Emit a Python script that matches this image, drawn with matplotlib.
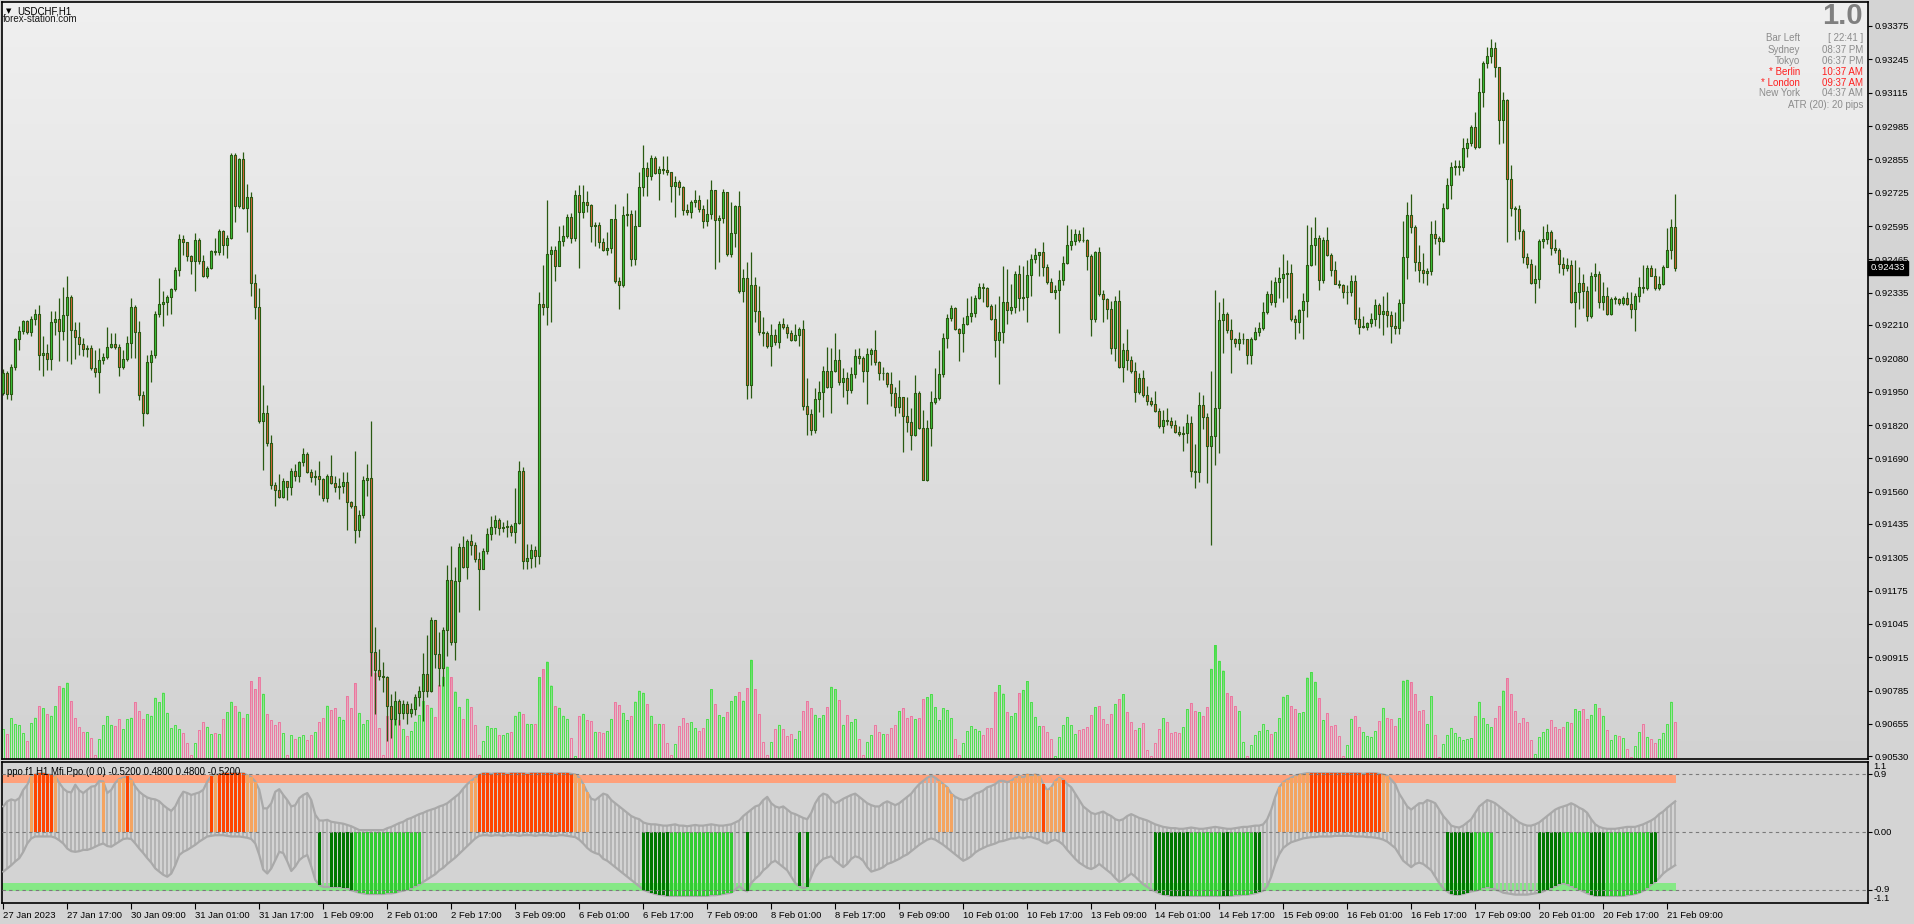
import numpy as np
import matplotlib
matplotlib.use("Agg")
import matplotlib.pyplot as plt
from matplotlib.patches import Rectangle
from matplotlib.path import Path
from matplotlib.collections import LineCollection, PatchCollection
import matplotlib.transforms as mtransforms

plt.rcParams['font.family'] = ['Liberation Sans', 'DejaVu Sans']

# ---- USDCHF H1, 27 Jan 2023 01:00 .. 21 Feb 2023 11:00 (one entry per hourly bar) ----
first_open = 0.91945
close = [
    0.92022, 0.91940, 0.92045, 0.92156, 0.92188, 0.92225, 0.92181, 0.92233, 0.92253, 0.92091,
    0.92102, 0.92076, 0.92222, 0.92233, 0.92188, 0.92248, 0.92319, 0.92191, 0.92162, 0.92134,
    0.92117, 0.92120, 0.92042, 0.92028, 0.92074, 0.92085, 0.92125, 0.92136, 0.92124, 0.92048,
    0.92077, 0.92139, 0.92281, 0.92184, 0.91936, 0.91866, 0.92066, 0.92091, 0.92253, 0.92291,
    0.92298, 0.92319, 0.92350, 0.92424, 0.92546, 0.92533, 0.92479, 0.92461, 0.92541, 0.92458,
    0.92402, 0.92432, 0.92498, 0.92496, 0.92577, 0.92520, 0.92549, 0.92872, 0.92675, 0.92857,
    0.92666, 0.92708, 0.92372, 0.92278, 0.91837, 0.91868, 0.91751, 0.91587, 0.91567, 0.91541,
    0.91603, 0.91580, 0.91640, 0.91620, 0.91674, 0.91707, 0.91637, 0.91617, 0.91623, 0.91610,
    0.91535, 0.91621, 0.91593, 0.91578, 0.91584, 0.91597, 0.91521, 0.91503, 0.91412, 0.91471,
    0.91604, 0.91614, 0.90934, 0.90864, 0.90840, 0.90837, 0.90723, 0.90676, 0.90743, 0.90699,
    0.90731, 0.90699, 0.90715, 0.90759, 0.90785, 0.90848, 0.90785, 0.91059, 0.90926, 0.90872,
    0.91020, 0.91216, 0.90973, 0.91211, 0.91344, 0.91268, 0.91368, 0.91352, 0.91298, 0.91258,
    0.91329, 0.91396, 0.91423, 0.91448, 0.91420, 0.91423, 0.91427, 0.91404, 0.91440, 0.91639,
    0.91290, 0.91302, 0.91334, 0.91310, 0.92293, 0.92278, 0.92485, 0.92503, 0.92441, 0.92539,
    0.92555, 0.92629, 0.92550, 0.92716, 0.92652, 0.92691, 0.92677, 0.92594, 0.92600, 0.92535,
    0.92503, 0.92508, 0.92622, 0.92383, 0.92364, 0.92638, 0.92644, 0.92466, 0.92594, 0.92748,
    0.92820, 0.92790, 0.92860, 0.92801, 0.92818, 0.92813, 0.92806, 0.92751, 0.92768, 0.92749,
    0.92657, 0.92651, 0.92688, 0.92696, 0.92660, 0.92616, 0.92641, 0.92735, 0.92619, 0.92626,
    0.92729, 0.92487, 0.92569, 0.92674, 0.92342, 0.92393, 0.91975, 0.92364, 0.92263, 0.92184,
    0.92177, 0.92126, 0.92169, 0.92143, 0.92215, 0.92201, 0.92177, 0.92152, 0.92169, 0.92195,
    0.91895, 0.91864, 0.91802, 0.91921, 0.91949, 0.92029, 0.91967, 0.92032, 0.92073, 0.91989,
    0.92004, 0.91957, 0.92018, 0.92087, 0.92081, 0.92029, 0.92097, 0.92112, 0.92064, 0.92022,
    0.92022, 0.91979, 0.91946, 0.91891, 0.91929, 0.91856, 0.91833, 0.91780, 0.91943, 0.91807,
    0.91604, 0.91809, 0.91910, 0.91924, 0.92018, 0.92158, 0.92237, 0.92275, 0.92195, 0.92177,
    0.92213, 0.92244, 0.92256, 0.92316, 0.92357, 0.92354, 0.92282, 0.92234, 0.92152, 0.92184,
    0.92299, 0.92267, 0.92278, 0.92408, 0.92316, 0.92319, 0.92405, 0.92467, 0.92483, 0.92494,
    0.92437, 0.92378, 0.92339, 0.92348, 0.92385, 0.92450, 0.92521, 0.92538, 0.92566, 0.92542,
    0.92540, 0.92480, 0.92234, 0.92494, 0.92330, 0.92312, 0.92271, 0.92122, 0.92303, 0.92047,
    0.92111, 0.92074, 0.92029, 0.91950, 0.92005, 0.91936, 0.91913, 0.91902, 0.91876, 0.91815,
    0.91838, 0.91837, 0.91821, 0.91794, 0.91786, 0.91790, 0.91827, 0.91640, 0.91635, 0.91897,
    0.91851, 0.91739, 0.91779, 0.91888, 0.92231, 0.92252, 0.92189, 0.92156, 0.92139, 0.92155,
    0.92155, 0.92091, 0.92156, 0.92182, 0.92197, 0.92259, 0.92330, 0.92298, 0.92378, 0.92391,
    0.92408, 0.92412, 0.92234, 0.92221, 0.92268, 0.92303, 0.92443, 0.92521, 0.92549, 0.92387,
    0.92542, 0.92484, 0.92426, 0.92371, 0.92364, 0.92337, 0.92339, 0.92383, 0.92234, 0.92203,
    0.92203, 0.92216, 0.92234, 0.92288, 0.92252, 0.92263, 0.92248, 0.92206, 0.92197, 0.92294,
    0.92475, 0.92637, 0.92591, 0.92455, 0.92424, 0.92412, 0.92419, 0.92566, 0.92548, 0.92539,
    0.92664, 0.92755, 0.92827, 0.92827, 0.92827, 0.92900, 0.92918, 0.92983, 0.92902, 0.93119,
    0.93232, 0.93259, 0.93290, 0.93214, 0.93009, 0.93087, 0.92778, 0.92664, 0.92660, 0.92575,
    0.92475, 0.92448, 0.92373, 0.92388, 0.92539, 0.92546, 0.92573, 0.92510, 0.92502, 0.92448,
    0.92433, 0.92442, 0.92301, 0.92339, 0.92375, 0.92343, 0.92243, 0.92401, 0.92410, 0.92301,
    0.92324, 0.92252, 0.92312, 0.92312, 0.92297, 0.92315, 0.92292, 0.92274, 0.92324, 0.92357,
    0.92355, 0.92433, 0.92402, 0.92352, 0.92370, 0.92437, 0.92501, 0.92591, 0.92433,
]
high = [
    0.92037, 0.92030, 0.92056, 0.92160, 0.92207, 0.92230, 0.92230, 0.92245, 0.92271, 0.92288,
    0.92167, 0.92136, 0.92265, 0.92264, 0.92315, 0.92358, 0.92401, 0.92327, 0.92222, 0.92222,
    0.92160, 0.92130, 0.92130, 0.92111, 0.92119, 0.92099, 0.92202, 0.92179, 0.92179, 0.92137,
    0.92114, 0.92168, 0.92315, 0.92287, 0.92225, 0.91952, 0.92091, 0.92114, 0.92265, 0.92393,
    0.92342, 0.92327, 0.92355, 0.92435, 0.92564, 0.92561, 0.92535, 0.92484, 0.92569, 0.92549,
    0.92484, 0.92438, 0.92503, 0.92549, 0.92583, 0.92581, 0.92561, 0.92880, 0.92879, 0.92862,
    0.92885, 0.92761, 0.92728, 0.92410, 0.92352, 0.91976, 0.91899, 0.91783, 0.91598, 0.91629,
    0.91613, 0.91583, 0.91652, 0.91667, 0.91680, 0.91729, 0.91714, 0.91649, 0.91644, 0.91680,
    0.91613, 0.91629, 0.91703, 0.91621, 0.91615, 0.91636, 0.91636, 0.91523, 0.91717, 0.91490,
    0.91620, 0.91667, 0.91835, 0.91033, 0.90947, 0.90895, 0.90840, 0.90770, 0.90785, 0.90754,
    0.90749, 0.90746, 0.90738, 0.90773, 0.90801, 0.90931, 0.91002, 0.91072, 0.91056, 0.91012,
    0.91031, 0.91276, 0.91349, 0.91266, 0.91360, 0.91388, 0.91377, 0.91396, 0.91365, 0.91326,
    0.91341, 0.91420, 0.91464, 0.91470, 0.91459, 0.91443, 0.91451, 0.91435, 0.91576, 0.91678,
    0.91655, 0.91357, 0.91357, 0.91349, 0.92339, 0.92445, 0.92696, 0.92516, 0.92516, 0.92594,
    0.92599, 0.92641, 0.92646, 0.92735, 0.92755, 0.92755, 0.92732, 0.92680, 0.92610, 0.92610,
    0.92547, 0.92571, 0.92622, 0.92683, 0.92398, 0.92672, 0.92724, 0.92657, 0.92657, 0.92806,
    0.92912, 0.92845, 0.92873, 0.92868, 0.92829, 0.92868, 0.92868, 0.92798, 0.92790, 0.92775,
    0.92753, 0.92681, 0.92696, 0.92735, 0.92717, 0.92677, 0.92700, 0.92775, 0.92735, 0.92638,
    0.92739, 0.92727, 0.92691, 0.92677, 0.92732, 0.92429, 0.92455, 0.92494, 0.92397, 0.92360,
    0.92239, 0.92187, 0.92213, 0.92194, 0.92227, 0.92237, 0.92213, 0.92191, 0.92215, 0.92203,
    0.92230, 0.92004, 0.91881, 0.91965, 0.91993, 0.92050, 0.92123, 0.92119, 0.92177, 0.92115,
    0.92042, 0.92025, 0.92047, 0.92115, 0.92119, 0.92090, 0.92119, 0.92119, 0.92191, 0.92071,
    0.92047, 0.92028, 0.92025, 0.91967, 0.91996, 0.91931, 0.91931, 0.91888, 0.92015, 0.91953,
    0.91878, 0.91838, 0.91953, 0.92042, 0.92112, 0.92177, 0.92253, 0.92288, 0.92278, 0.92198,
    0.92239, 0.92316, 0.92321, 0.92325, 0.92374, 0.92374, 0.92357, 0.92292, 0.92292, 0.92321,
    0.92440, 0.92429, 0.92368, 0.92419, 0.92443, 0.92439, 0.92464, 0.92487, 0.92510, 0.92494,
    0.92532, 0.92446, 0.92391, 0.92364, 0.92426, 0.92480, 0.92601, 0.92583, 0.92583, 0.92579,
    0.92590, 0.92546, 0.92487, 0.92497, 0.92514, 0.92346, 0.92316, 0.92305, 0.92323, 0.92346,
    0.92141, 0.92196, 0.92087, 0.92067, 0.92022, 0.92036, 0.91972, 0.91929, 0.91951, 0.91886,
    0.91879, 0.91886, 0.91851, 0.91841, 0.91817, 0.91817, 0.91861, 0.91854, 0.91745, 0.91947,
    0.91936, 0.91865, 0.92029, 0.92346, 0.92300, 0.92314, 0.92262, 0.92234, 0.92159, 0.92182,
    0.92180, 0.92139, 0.92163, 0.92203, 0.92221, 0.92300, 0.92341, 0.92385, 0.92396, 0.92437,
    0.92487, 0.92464, 0.92446, 0.92248, 0.92273, 0.92333, 0.92601, 0.92590, 0.92631, 0.92560,
    0.92551, 0.92592, 0.92491, 0.92460, 0.92387, 0.92371, 0.92364, 0.92406, 0.92406, 0.92279,
    0.92243, 0.92220, 0.92257, 0.92310, 0.92297, 0.92321, 0.92339, 0.92265, 0.92261, 0.92310,
    0.92615, 0.92691, 0.92720, 0.92600, 0.92520, 0.92491, 0.92433, 0.92615, 0.92618, 0.92557,
    0.92684, 0.92782, 0.92845, 0.92854, 0.92854, 0.92938, 0.92938, 0.92991, 0.93041, 0.93172,
    0.93237, 0.93295, 0.93326, 0.93314, 0.93217, 0.93118, 0.93090, 0.92833, 0.92673, 0.92678,
    0.92582, 0.92491, 0.92466, 0.92442, 0.92546, 0.92597, 0.92602, 0.92579, 0.92546, 0.92510,
    0.92473, 0.92470, 0.92464, 0.92464, 0.92437, 0.92410, 0.92361, 0.92415, 0.92451, 0.92419,
    0.92379, 0.92357, 0.92319, 0.92324, 0.92315, 0.92324, 0.92339, 0.92339, 0.92334, 0.92397,
    0.92442, 0.92442, 0.92442, 0.92433, 0.92402, 0.92442, 0.92588, 0.92624, 0.92720,
]
low = [
    0.91937, 0.91922, 0.91919, 0.92033, 0.92114, 0.92176, 0.92173, 0.92168, 0.92210, 0.92034,
    0.92011, 0.92033, 0.92033, 0.92170, 0.92071, 0.92150, 0.92068, 0.92056, 0.92079, 0.92094,
    0.92088, 0.92085, 0.92036, 0.92009, 0.91943, 0.92059, 0.92076, 0.92122, 0.92116, 0.92011,
    0.92037, 0.92068, 0.92083, 0.92083, 0.91917, 0.91818, 0.91863, 0.91989, 0.92080, 0.92242,
    0.92204, 0.92250, 0.92251, 0.92341, 0.92401, 0.92481, 0.92461, 0.92407, 0.92341, 0.92449,
    0.92395, 0.92392, 0.92427, 0.92481, 0.92484, 0.92484, 0.92469, 0.92543, 0.92612, 0.92666,
    0.92661, 0.92572, 0.92322, 0.92234, 0.91829, 0.91644, 0.91740, 0.91572, 0.91506, 0.91536,
    0.91536, 0.91527, 0.91549, 0.91603, 0.91598, 0.91660, 0.91632, 0.91596, 0.91587, 0.91549,
    0.91523, 0.91521, 0.91590, 0.91560, 0.91532, 0.91556, 0.91412, 0.91498, 0.91362, 0.91385,
    0.91459, 0.91542, 0.90840, 0.90695, 0.90825, 0.90781, 0.90590, 0.90602, 0.90652, 0.90652,
    0.90676, 0.90655, 0.90684, 0.90691, 0.90723, 0.90668, 0.90759, 0.90781, 0.90872, 0.90801,
    0.90801, 0.90919, 0.90962, 0.90903, 0.91091, 0.91263, 0.91221, 0.91313, 0.91287, 0.91099,
    0.91307, 0.91318, 0.91373, 0.91396, 0.91393, 0.91404, 0.91385, 0.91388, 0.91360, 0.91435,
    0.91260, 0.91260, 0.91263, 0.91266, 0.91279, 0.92250, 0.92210, 0.92221, 0.92383, 0.92438,
    0.92516, 0.92550, 0.92528, 0.92539, 0.92433, 0.92625, 0.92649, 0.92535, 0.92519, 0.92508,
    0.92500, 0.92481, 0.92492, 0.92375, 0.92273, 0.92359, 0.92594, 0.92438, 0.92445, 0.92594,
    0.92712, 0.92712, 0.92774, 0.92798, 0.92696, 0.92798, 0.92795, 0.92688, 0.92631, 0.92717,
    0.92638, 0.92638, 0.92626, 0.92671, 0.92652, 0.92588, 0.92595, 0.92621, 0.92429, 0.92455,
    0.92609, 0.92479, 0.92475, 0.92515, 0.92335, 0.92299, 0.91921, 0.91927, 0.92220, 0.92169,
    0.92129, 0.92119, 0.92051, 0.92133, 0.92119, 0.92194, 0.92158, 0.92148, 0.92148, 0.92129,
    0.91878, 0.91783, 0.91780, 0.91790, 0.91871, 0.91852, 0.91965, 0.91867, 0.92025, 0.91975,
    0.91931, 0.91900, 0.91946, 0.92004, 0.92058, 0.91989, 0.91903, 0.92054, 0.92054, 0.91996,
    0.91996, 0.91967, 0.91895, 0.91856, 0.91867, 0.91715, 0.91794, 0.91722, 0.91777, 0.91806,
    0.91604, 0.91603, 0.91740, 0.91900, 0.91916, 0.92006, 0.92119, 0.92227, 0.92191, 0.92071,
    0.92104, 0.92210, 0.92220, 0.92239, 0.92311, 0.92299, 0.92278, 0.92230, 0.92086, 0.91978,
    0.92141, 0.92213, 0.92251, 0.92257, 0.92264, 0.92268, 0.92223, 0.92323, 0.92450, 0.92401,
    0.92401, 0.92368, 0.92337, 0.92312, 0.92180, 0.92364, 0.92446, 0.92501, 0.92521, 0.92532,
    0.92532, 0.92426, 0.92166, 0.92223, 0.92323, 0.92221, 0.92234, 0.92098, 0.92070, 0.92043,
    0.91988, 0.92036, 0.92022, 0.91910, 0.91940, 0.91931, 0.91897, 0.91896, 0.91869, 0.91810,
    0.91787, 0.91820, 0.91810, 0.91787, 0.91776, 0.91719, 0.91749, 0.91619, 0.91574, 0.91596,
    0.91804, 0.91594, 0.91353, 0.91663, 0.91712, 0.92100, 0.92177, 0.92022, 0.92125, 0.92114,
    0.92136, 0.92057, 0.92057, 0.92152, 0.92166, 0.92190, 0.92252, 0.92289, 0.92278, 0.92316,
    0.92300, 0.92316, 0.92227, 0.92156, 0.92180, 0.92156, 0.92241, 0.92439, 0.92443, 0.92346,
    0.92374, 0.92480, 0.92401, 0.92368, 0.92355, 0.92316, 0.92292, 0.92321, 0.92212, 0.92176,
    0.92197, 0.92192, 0.92203, 0.92206, 0.92197, 0.92170, 0.92201, 0.92139, 0.92176, 0.92176,
    0.92225, 0.92388, 0.92569, 0.92419, 0.92379, 0.92375, 0.92364, 0.92406, 0.92524, 0.92482,
    0.92533, 0.92660, 0.92702, 0.92796, 0.92793, 0.92811, 0.92865, 0.92909, 0.92896, 0.92900,
    0.93060, 0.93210, 0.93232, 0.93177, 0.92914, 0.92920, 0.92533, 0.92633, 0.92542, 0.92546,
    0.92451, 0.92430, 0.92370, 0.92297, 0.92355, 0.92511, 0.92524, 0.92484, 0.92491, 0.92412,
    0.92406, 0.92419, 0.92297, 0.92203, 0.92274, 0.92275, 0.92225, 0.92237, 0.92343, 0.92275,
    0.92270, 0.92248, 0.92248, 0.92292, 0.92288, 0.92288, 0.92288, 0.92237, 0.92188, 0.92301,
    0.92334, 0.92348, 0.92401, 0.92348, 0.92348, 0.92366, 0.92437, 0.92466, 0.92419,
]
volume = [
    300, 250, 407, 348, 336, 257, 178, 356, 415, 534,
    506, 447, 435, 526, 732, 712, 763, 585, 407, 324,
    269, 269, 210, 40, 198, 336, 427, 344, 328, 396,
    297, 396, 415, 573, 483, 403, 447, 435, 613, 566,
    664, 463, 308, 336, 297, 257, 158, 40, 158, 289,
    368, 324, 249, 265, 249, 396, 467, 573, 534, 475,
    415, 447, 779, 704, 823, 653, 447, 388, 336, 368,
    257, 40, 237, 198, 225, 237, 186, 237, 269, 368,
    415, 534, 494, 506, 422, 394, 635, 514, 756, 462,
    350, 390, 1073, 856, 313, 40, 434, 535, 502, 394,
    301, 229, 281, 374, 442, 583, 543, 514, 422, 744,
    824, 924, 824, 675, 522, 402, 603, 522, 342, 40,
    181, 330, 309, 309, 241, 241, 261, 273, 434, 474,
    454, 354, 350, 354, 816, 904, 973, 735, 535, 514,
    434, 402, 213, 32, 434, 454, 394, 382, 273, 273,
    261, 281, 402, 575, 543, 462, 390, 434, 575, 683,
    663, 555, 434, 354, 354, 354, 161, 40, 148, 326,
    414, 359, 370, 307, 278, 315, 396, 696, 555, 437,
    418, 474, 581, 629, 666, 585, 714, 992, 703, 455,
    174, 37, 167, 303, 344, 296, 229, 252, 196, 285,
    481, 585, 507, 444, 407, 437, 525, 722, 696, 592,
    344, 444, 370, 396, 204, 37, 174, 241, 340, 270,
    248, 252, 307, 344, 481, 507, 414, 426, 396, 407,
    599, 618, 648, 518, 389, 507, 488, 407, 204, 37,
    159, 278, 326, 296, 285, 241, 307, 315, 666, 740,
    655, 474, 428, 456, 656, 691, 779, 568, 421, 326,
    326, 274, 200, 28, 221, 340, 421, 340, 246, 288,
    305, 316, 439, 519, 526, 396, 351, 449, 551, 596,
    649, 467, 375, 291, 309, 358, 95, 35, 158, 298,
    410, 368, 256, 270, 256, 316, 498, 561, 481, 467,
    431, 519, 902, 1140, 982, 884, 660, 631, 526, 481,
    175, 35, 140, 239, 281, 351, 288, 246, 270, 410,
    624, 638, 526, 498, 456, 467, 814, 870, 772, 614,
    386, 456, 333, 340, 228, 30, 140, 405, 429, 317,
    270, 233, 224, 279, 382, 512, 410, 396, 326, 410,
    783, 792, 769, 652, 480, 489, 349, 629, 242, 23,
    154, 242, 312, 256, 224, 186, 196, 210, 433, 573,
    410, 349, 317, 410, 526, 685, 815, 652, 480, 363,
    410, 373, 186, 47, 219, 270, 303, 387, 317, 303,
    317, 373, 363, 498, 480, 503, 396, 443, 550, 512,
    433, 293, 186, 242, 233, 210, 102, 23, 130, 270,
    349, 224, 200, 163, 200, 265, 349, 573, 373,
]

# ---- "ppo f1 H1 Mfi Ppo" indicator: upper / lower envelope and bar colouring ----
ppo_upper = [
    0.40, 0.48, 0.51, 0.49, 0.53, 0.66, 0.74, 0.88, 0.90, 0.92,
    0.92, 0.90, 0.89, 0.87, 0.77, 0.68, 0.63, 0.62, 0.74, 0.65,
    0.61, 0.66, 0.71, 0.72, 0.80, 0.79, 0.61, 0.66, 0.77, 0.83,
    0.85, 0.87, 0.82, 0.71, 0.63, 0.58, 0.54, 0.52, 0.51, 0.48,
    0.42, 0.37, 0.33, 0.40, 0.53, 0.63, 0.61, 0.58, 0.60, 0.62,
    0.66, 0.79, 0.87, 0.89, 0.91, 0.92, 0.92, 0.92, 0.92, 0.92,
    0.92, 0.89, 0.86, 0.79, 0.66, 0.37, 0.37, 0.45, 0.63, 0.67,
    0.58, 0.50, 0.40, 0.42, 0.53, 0.58, 0.61, 0.50, 0.27, 0.18,
    0.18, 0.19, 0.16, 0.15, 0.14, 0.13, 0.11, 0.09, 0.06, 0.03,
    0.03, 0.03, 0.03, 0.03, 0.03, 0.03, 0.06, 0.08, 0.11, 0.14,
    0.16, 0.20, 0.22, 0.25, 0.28,
    0.30, 0.33, 0.35, 0.37, 0.40,
    0.42, 0.45, 0.50, 0.55, 0.60,
    0.68, 0.75, 0.80, 0.85, 0.90,
    0.92, 0.92, 0.91, 0.92, 0.92, 0.92, 0.91, 0.92, 0.92, 0.92, 0.92, 0.91,
    0.92, 0.92, 0.92, 0.92, 0.92, 0.92, 0.91, 0.92, 0.92, 0.92, 0.91, 0.90,
    0.85, 0.75, 0.62, 0.52, 0.50, 0.55,
    0.60, 0.58, 0.50, 0.45, 0.40, 0.35, 0.30, 0.25, 0.22, 0.20,
    0.15, 0.13, 0.12, 0.12, 0.11, 0.10, 0.10, 0.11, 0.12, 0.10, 0.10, 0.09,
    0.10, 0.11, 0.10, 0.10, 0.11, 0.12, 0.11, 0.10, 0.10, 0.11, 0.12, 0.15,
    0.18, 0.25, 0.30, 0.35, 0.40, 0.42,
    0.50, 0.55, 0.45, 0.40, 0.38, 0.40, 0.35, 0.30, 0.28, 0.25,
    0.22, 0.20, 0.30, 0.45, 0.55, 0.60, 0.58, 0.50, 0.45, 0.48,
    0.52, 0.55, 0.58, 0.60, 0.55, 0.50, 0.45, 0.42, 0.40, 0.40,
    0.45, 0.48, 0.45, 0.42, 0.45, 0.50, 0.55, 0.60, 0.68, 0.75,
    0.80, 0.85, 0.88, 0.85, 0.80, 0.75, 0.70, 0.60, 0.55, 0.52,
    0.50, 0.52, 0.55, 0.60, 0.62, 0.65, 0.70, 0.72, 0.75, 0.80,
    0.80, 0.78, 0.80, 0.85, 0.88, 0.85, 0.90, 0.88, 0.90, 0.88,
    0.75, 0.65, 0.70, 0.80, 0.85, 0.82, 0.75, 0.70, 0.60, 0.50,
    0.40, 0.35, 0.30, 0.28, 0.30, 0.32, 0.28, 0.25, 0.20, 0.18,
    0.20, 0.25, 0.28, 0.25, 0.22, 0.20, 0.18, 0.15, 0.12, 0.10,
    0.08, 0.07, 0.06, 0.06, 0.05, 0.05, 0.06, 0.07, 0.06, 0.05, 0.05, 0.06, 0.07,
    0.08, 0.07, 0.06, 0.05, 0.05, 0.06, 0.07, 0.08, 0.08, 0.09, 0.10, 0.10, 0.12,
    0.20, 0.35, 0.55, 0.70,
    0.78, 0.82, 0.85, 0.88, 0.90, 0.91, 0.92, 0.92, 0.92, 0.92, 0.92, 0.92, 0.92, 0.92,
    0.92, 0.92, 0.92, 0.92, 0.92, 0.92, 0.91, 0.92, 0.92, 0.92, 0.91, 0.90, 0.88, 0.82,
    0.75, 0.60, 0.50, 0.40, 0.35, 0.40, 0.45, 0.45, 0.50, 0.48, 0.45, 0.35,
    0.25, 0.18, 0.10, 0.08, 0.07, 0.10, 0.15, 0.20, 0.30, 0.40, 0.45, 0.50,
    0.48, 0.45, 0.40, 0.35, 0.30, 0.25, 0.20, 0.15, 0.12, 0.10, 0.10, 0.12,
    0.15, 0.20, 0.25, 0.30, 0.35, 0.38, 0.40, 0.42, 0.45, 0.42, 0.38, 0.35, 0.30, 0.20, 0.12, 0.08,
    0.06, 0.05, 0.05, 0.05, 0.06, 0.07, 0.08, 0.08, 0.08, 0.10,
    0.12, 0.15, 0.18, 0.22, 0.28, 0.32, 0.38, 0.43, 0.48,
]
ppo_lower = [
    -0.62, -0.57, -0.52, -0.46, -0.41, -0.31, -0.18, -0.10, -0.07, -0.07,
    -0.07, -0.07, -0.07, -0.09, -0.13, -0.18, -0.26, -0.30, -0.31, -0.30,
    -0.28, -0.28, -0.26, -0.23, -0.20, -0.18, -0.22, -0.23, -0.19, -0.15,
    -0.11, -0.10, -0.11, -0.18, -0.26, -0.33, -0.41, -0.48, -0.57, -0.62,
    -0.67, -0.70, -0.65, -0.52, -0.36, -0.31, -0.28, -0.24, -0.20, -0.15,
    -0.11, -0.07, -0.06, -0.05, -0.05, -0.05, -0.06, -0.07, -0.07, -0.07,
    -0.08, -0.09, -0.11, -0.18, -0.36, -0.59, -0.65, -0.57, -0.44, -0.31,
    -0.33, -0.46, -0.61, -0.54, -0.44, -0.39, -0.36, -0.54, -0.75, -0.83,
    -0.86, -0.86, -0.86, -0.86, -0.86, -0.87, -0.88, -0.91, -0.93, -0.95,
    -0.96, -0.97, -0.97, -0.97, -0.97, -0.97, -0.96, -0.96, -0.95, -0.93,
    -0.92, -0.90, -0.88, -0.85, -0.82,
    -0.78, -0.74, -0.70, -0.66, -0.60,
    -0.56, -0.50, -0.45, -0.40, -0.34,
    -0.28, -0.22, -0.16, -0.10, -0.06,
    -0.05, -0.05, -0.06, -0.05, -0.05, -0.06, -0.05, -0.05, -0.05, -0.06, -0.05, -0.05,
    -0.05, -0.06, -0.05, -0.05, -0.05, -0.06, -0.06, -0.05, -0.05, -0.06, -0.07, -0.08,
    -0.12, -0.18, -0.25, -0.30, -0.33, -0.35,
    -0.42, -0.45, -0.50, -0.55, -0.60, -0.65, -0.70, -0.75, -0.80, -0.85,
    -0.90, -0.93, -0.95, -0.97, -0.98, -0.99, -1.00, -1.00, -1.00, -1.00, -1.00, -1.00,
    -1.00, -1.00, -1.00, -1.00, -1.00, -0.99, -0.99, -0.98, -0.97, -0.96, -0.95, -0.90,
    -0.85, -0.90, -0.93, -0.80, -0.73, -0.68,
    -0.60, -0.55, -0.48, -0.45, -0.50, -0.55, -0.60, -0.70, -0.80, -0.85,
    -0.88, -0.86, -0.70, -0.55, -0.48, -0.42, -0.40, -0.38, -0.45, -0.50,
    -0.55, -0.50, -0.42, -0.38, -0.40, -0.45, -0.55, -0.62, -0.60, -0.58,
    -0.55, -0.50, -0.48, -0.45, -0.42, -0.38, -0.35, -0.30, -0.25, -0.20,
    -0.16, -0.12, -0.10, -0.12, -0.16, -0.20, -0.25, -0.30, -0.35, -0.40,
    -0.45, -0.42, -0.38, -0.32, -0.28, -0.25, -0.22, -0.20, -0.18, -0.15,
    -0.14, -0.12, -0.10, -0.10, -0.08, -0.10, -0.08, -0.08, -0.10, -0.12,
    -0.16, -0.18, -0.14, -0.12, -0.15, -0.20, -0.28, -0.35, -0.42, -0.48,
    -0.52, -0.56, -0.58, -0.55, -0.50, -0.55, -0.60, -0.65, -0.72, -0.78,
    -0.75, -0.70, -0.65, -0.70, -0.76, -0.82, -0.86, -0.90, -0.93, -0.96,
    -0.98, -0.99, -1.00, -1.00, -1.00, -1.00, -1.00, -1.00, -1.00, -1.00, -1.00, -1.00, -1.00,
    -1.00, -1.00, -1.00, -1.00, -1.00, -0.99, -0.99, -0.98, -0.98, -0.97, -0.96, -0.94, -0.92,
    -0.85, -0.70, -0.50, -0.35,
    -0.25, -0.20, -0.16, -0.14, -0.12, -0.10, -0.09, -0.08, -0.08, -0.07, -0.07, -0.07, -0.07, -0.06,
    -0.06, -0.06, -0.06, -0.06, -0.07, -0.07, -0.07, -0.08, -0.08, -0.09, -0.10, -0.12, -0.15, -0.20,
    -0.25, -0.35, -0.45, -0.50, -0.55, -0.50, -0.48, -0.50, -0.55, -0.60, -0.70, -0.80,
    -0.88, -0.93, -0.97, -0.98, -0.98, -0.97, -0.95, -0.93, -0.92, -0.90, -0.88, -0.86,
    -0.88, -0.90, -0.92, -0.95, -0.96, -0.97, -0.98, -0.98, -0.98, -0.98, -0.97, -0.96,
    -0.95, -0.93, -0.90, -0.88, -0.85, -0.82, -0.80, -0.82, -0.85, -0.88, -0.90, -0.93, -0.96, -0.98, -1.00, -1.00,
    -1.00, -1.00, -1.00, -1.00, -1.00, -1.00, -0.99, -0.98, -0.97, -0.95,
    -0.92, -0.88, -0.82, -0.78, -0.72, -0.65, -0.60, -0.56, -0.52,
]
# g = neutral, R = strong up, S = weak up, D = strong down, L = weak down
ppo_state_runs = [
    ('g', 7), ('S', 1), ('R', 5), ('S', 1), ('g', 11), ('S', 1), ('g', 3), ('S', 2), ('R', 1), ('S', 1),
    ('g', 19), ('R', 1), ('S', 1), ('R', 7), ('S', 3), ('g', 15), ('D', 1), ('g', 2), ('D', 6), ('L', 17),
    ('g', 12), ('S', 2), ('R', 24), ('S', 4), ('g', 13), ('D', 7), ('L', 16), ('g', 3), ('D', 1), ('g', 12),
    ('D', 1), ('g', 1), ('D', 1), ('g', 32), ('S', 4), ('g', 14), ('S', 8), ('R', 1), ('S', 4), ('R', 1),
    ('g', 22), ('D', 9), ('L', 8), ('D', 2), ('L', 6), ('D', 2), ('g', 4), ('S', 8), ('R', 18), ('S', 2),
    ('g', 14), ('D', 7), ('L', 5), ('g', 11), ('D', 6), ('L', 7), ('D', 4), ('L', 11), ('D', 2), ('g', 5),
]
ppo_levels = [0.9, 0.0, -0.9]

time_ticks = ["27 Jan 2023", "27 Jan 17:00", "30 Jan 09:00", "31 Jan 01:00", "31 Jan 17:00",
              "1 Feb 09:00", "2 Feb 01:00", "2 Feb 17:00", "3 Feb 09:00", "6 Feb 01:00",
              "6 Feb 17:00", "7 Feb 09:00", "8 Feb 01:00", "8 Feb 17:00", "9 Feb 09:00",
              "10 Feb 01:00", "10 Feb 17:00", "13 Feb 09:00", "14 Feb 01:00", "14 Feb 17:00",
              "15 Feb 09:00", "16 Feb 01:00", "16 Feb 17:00", "17 Feb 09:00", "20 Feb 01:00",
              "20 Feb 17:00", "21 Feb 09:00"]
bars_per_tick = 16
price_ticks = ["0.93375", "0.93245", "0.93115", "0.92985", "0.92855", "0.92725", "0.92595",
               "0.92465", "0.92335", "0.92210", "0.92080", "0.91950", "0.91820", "0.91690",
               "0.91560", "0.91435", "0.91305", "0.91175", "0.91045", "0.90915", "0.90785",
               "0.90655", "0.90530"]
last_price = 0.92433

info_rows = [("Bar Left", "[ 22:41 ]", False), ("Sydney", "08:37 PM", False),
             ("Tokyo", "06:37 PM", False), ("* Berlin", "10:37 AM", True),
             ("* London", "09:37 AM", True), ("New York", "04:37 AM", False)]

# ---------------------------------------------------------------------------
n = min(len(close), len(high), len(low), len(volume), len(ppo_upper), len(ppo_lower))
c = np.array(close[:n])
o = np.array([first_open] + close[:n - 1])
h = np.maximum(np.array(high[:n]), np.maximum(o, c))
l = np.minimum(np.array(low[:n]), np.minimum(o, c))
vol = np.array(volume[:n], dtype=float)
up = np.array(ppo_upper[:n])
lo = np.array(ppo_lower[:n])
state = "".join(s * k for s, k in ppo_state_runs)[:n].ljust(n, 'g')
x = np.arange(n)
bull = c >= o

W, H, DPI = 1914, 924, 100
fig = plt.figure(figsize=(W / DPI, H / DPI), dpi=DPI, facecolor='#D4D4D4')


def rect(left, top, right, bottom):
    return [left / W, 1 - bottom / H, (right - left) / W, (bottom - top) / H]


XL = (-0.325, 466.2)
PRICE_LIM = (0.905184, 0.934685)
IND_LIM = (-1.111, 1.0955)

# background gradient of the price window
bg = fig.add_axes(rect(2, 2, 1868, 759), zorder=0)
grad = np.linspace(0, 1, 256).reshape(-1, 1)
top_c = np.array([0.940, 0.940, 0.940])
bot_c = np.array([0.825, 0.825, 0.825])
img = top_c * (1 - grad[..., None]) + bot_c * grad[..., None]
bg.imshow(img, extent=[0, 1, 0, 1], aspect='auto', origin='upper')
bg.set_axis_off()

# volume histogram (drawn under the candles)
vax = fig.add_axes(rect(2, 2, 1868, 759), zorder=1)
vax.patch.set_visible(False)
vax.set_xlim(*XL)
vax.set_ylim(0, 7570)
vax.set_axis_off()
vw = 0.55
for is_bull, top_rgb, bot_rgb, edge in [
        (True, (0.30, 0.86, 0.30), (0.83, 0.90, 0.83), '#3EE03E'),
        (False, (0.91, 0.48, 0.62), (0.90, 0.82, 0.85), '#EE6E9A')]:
    sel = np.where(bull == is_bull)[0]
    verts, codes = [], []
    for i in sel:
        x0, x1 = i - vw / 2, i + vw / 2
        verts += [(x0, 0), (x1, 0), (x1, vol[i]), (x0, vol[i]), (x0, 0)]
        codes += [Path.MOVETO, Path.LINETO, Path.LINETO, Path.LINETO, Path.CLOSEPOLY]
    g = np.linspace(0, 1, 128).reshape(-1, 1, 1)
    cimg = np.concatenate([np.array(bot_rgb) * (1 - g) + np.array(top_rgb) * g,
                           np.ones_like(g)], axis=2)
    im = vax.imshow(cimg, extent=[XL[0], XL[1], 0, 1150], origin='lower', aspect='auto',
                    interpolation='bilinear')
    im.set_clip_path(Path(verts, codes), transform=vax.transData)
    vax.add_collection(PatchCollection(
        [Rectangle((i - vw / 2, 0), vw, vol[i]) for i in sel],
        facecolor='none', edgecolor=edge, linewidth=0.6))
vax.set_xlim(*XL)
vax.set_ylim(0, 7570)

# candles
ax = fig.add_axes(rect(2, 2, 1868, 759), zorder=2)
ax.patch.set_visible(False)
WICK = '#2A5A12'
ax.add_collection(LineCollection([[(i, l[i]), (i, h[i])] for i in x],
                                 colors=WICK, linewidths=0.9, zorder=2))
bw = 0.56
bodies, fcs = [], []
for i in x:
    b0 = min(o[i], c[i])
    bh = max(abs(c[i] - o[i]), 0.000012)
    bodies.append(Rectangle((i - bw / 2, b0), bw, bh))
    fcs.append('#3CC83C' if bull[i] else '#E0643A')
ax.add_collection(PatchCollection(bodies, facecolors=fcs, edgecolors=WICK,
                                  linewidths=0.8, zorder=3))
ax.set_xlim(*XL)
ax.set_ylim(*PRICE_LIM)
ax.set_xticks([])
ax.yaxis.tick_right()
ax.set_yticks([float(t) for t in price_ticks])
ax.set_yticklabels(price_ticks)
ax.tick_params(axis='y', direction='out', length=3, width=0.8, pad=1.5,
               labelsize=6.8, colors='black')
for s in ax.spines.values():
    s.set_color('black')
    s.set_linewidth(1.2)
ax.text(1.0015, last_price, last_price and "%.5f" % last_price,
        transform=mtransforms.blended_transform_factory(ax.transAxes, ax.transData),
        ha='left', va='center', color='white', fontsize=6.8, zorder=10,
        bbox=dict(boxstyle='square,pad=0.25', facecolor='black', edgecolor='black'),
        clip_on=False)

# indicator window
ind = fig.add_axes(rect(2, 762, 1868, 903), zorder=2)
ind.set_facecolor('#D3D3D3')
ind.set_xlim(*XL)
ind.set_ylim(*IND_LIM)
ind.add_patch(Rectangle((-0.3, 0.77), n - 1 + 0.6, 0.12, facecolor='#FFA07A',
                        edgecolor='none', zorder=1))
ind.add_patch(Rectangle((-0.3, -0.92), n - 1 + 0.6, 0.12, facecolor='#86E886',
                        edgecolor='none', zorder=1))
ind.vlines(x, lo, up, colors='#B4B4B4', linewidth=1.4, zorder=2)
ind.plot(x, up, color='#A9A9A9', linewidth=1.6, zorder=3)
ind.plot(x, lo, color='#A9A9A9', linewidth=1.6, zorder=3)
colours = {'R': '#FF4500', 'S': '#F4A460', 'D': '#007800', 'L': '#32CD32'}
for code, col in colours.items():
    sel = np.array([i for i in x if state[i] == code], dtype=int)
    if len(sel) == 0:
        continue
    vals = up[sel] if code in 'RS' else lo[sel]
    ind.bar(sel, vals, width=0.68, bottom=0, color=col, linewidth=0, zorder=4)
for lev in ppo_levels:
    ind.axhline(lev, color='#7A7A7A', linewidth=0.8, linestyle=(0, (3, 3)), zorder=5)
for s in ind.spines.values():
    s.set_color('black')
    s.set_linewidth(1.2)
ind.yaxis.tick_right()
ind.set_yticks(ppo_levels)
ind.set_yticklabels([])
ind.tick_params(axis='y', direction='out', length=3, width=0.8)
tick_pos = [k * bars_per_tick for k in range(len(time_ticks))]
ind.set_xticks(tick_pos)
ind.set_xticklabels(time_ticks, ha='left')
ind.tick_params(axis='x', direction='out', length=4, width=0.8, pad=2,
                labelsize=6.8, colors='black')
tr = mtransforms.blended_transform_factory(ind.transAxes, ind.transData)
for txt, yv, va in [("1.1", IND_LIM[1], 'top'), ("0.9", 0.9, 'center'),
                    ("0.00", 0.0, 'center'), ("-0.9", -0.9, 'center'),
                    ("-1.1", IND_LIM[0], 'bottom')]:
    ind.text(1.003, yv, txt, transform=tr, ha='left', va=va, fontsize=6.8,
             color='black', clip_on=False)
ind.text(5 / 1866, 0.93, "ppo f1 H1 Mfi Ppo (0 0) -0.5200 0.4800 0.4800 -0.5200",
         transform=ind.transAxes, ha='left', va='center', fontsize=6.9, color='black',
         zorder=8)


# window captions and the info block
def ftext(px, py, s, **kw):
    fig.text(px / W, 1 - py / H, s, **kw)


ftext(6, 11, "\u25BC", fontsize=5, family='DejaVu Sans', ha='left', va='center', color='black')
ftext(17, 11, "USDCHF,H1", fontsize=7, ha='left', va='center', color='black')
ftext(3, 18.5, "forex-station.com", fontsize=7, ha='left', va='center', color='#1A1A1A')
ftext(1863, 16, "1.0", fontsize=21, fontweight='bold', ha='right', va='center', color='#808080')
row_y = [38.3, 50, 61, 71.7, 82.7, 93.3]
for (lab, val, hot), yy in zip(info_rows, row_y):
    colr = '#FF2020' if hot else '#8C8C8C'
    ftext(1800, yy, lab, fontsize=7, ha='right', va='center', color=colr)
    ftext(1863, yy, val, fontsize=7, ha='right', va='center', color=colr)
ftext(1863, 105, "ATR (20): 20 pips", fontsize=7, ha='right', va='center', color='#8C8C8C')

fig.savefig("out.png", dpi=DPI, facecolor=fig.get_facecolor())
